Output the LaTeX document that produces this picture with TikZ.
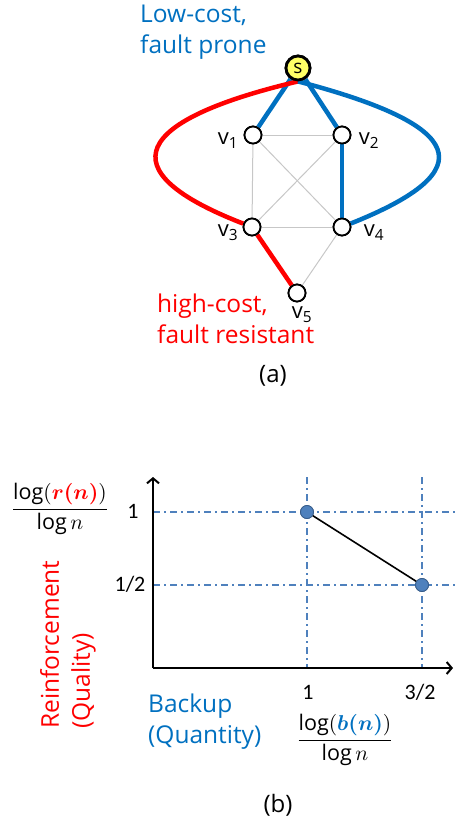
\documentclass[tikz,border=0pt]{standalone}
\usepackage{amsmath,bm}
\usepackage{fontspec}
\setmainfont{Open Sans}
\newfontfamily\calfont{Carlito}
\usetikzlibrary{arrows.meta}
\definecolor{myblue}{RGB}{0,112,192}
\definecolor{myred}{RGB}{255,0,0}
\definecolor{dotblue}{RGB}{79,129,189}
\definecolor{dotedge}{RGB}{56,93,138}
\definecolor{syellow}{RGB}{255,255,102}
\begin{document}
\begin{tikzpicture}[x=1pt,y=-1pt,
  vtx/.style={circle,draw,line width=1.8pt,fill=white,minimum size=17pt,inner sep=0pt},
  snode/.style={circle,draw,line width=2.8pt,fill=syellow,minimum size=24pt,inner sep=0pt,font=\fontsize{19}{19}\selectfont},
  grayedge/.style={draw=black!22,line width=1pt},
  blueedge/.style={draw=myblue,line width=4.5pt},
  rededge/.style={draw=myred,line width=4.5pt},
  vlab/.style={font=\fontsize{22}{24}\selectfont,inner sep=0pt},
  bigtext/.style={font=\fontsize{24.5}{31}\selectfont,inner sep=0pt,align=left},
  ticklab/.style={font=\calfont\fontsize{22}{24}\selectfont,inner sep=0pt},
  grid/.style={draw=dotblue,line width=1.3pt,dash pattern=on 7pt off 4pt on 2pt off 4pt},
  axis/.style={draw=black,line width=2.2pt,-{Straight Barb[length=5pt,width=12pt,line width=2pt]}},
  pt/.style={circle,fill=dotblue,draw=dotedge,line width=0.8pt,minimum size=13pt,inner sep=0pt},
  fracnode/.style={inner sep=0pt,scale=2.15}
]
\useasboundingbox (0,0) rectangle (457,828);

% ---------- (a) graph ----------
\node[snode] (s) at (298,68) {s};
\node[vtx] (v1) at (253,135) {};
\node[vtx] (v2) at (342,135) {};
\node[vtx] (v3) at (252,227) {};
\node[vtx] (v4) at (342,227) {};
\node[vtx] (v5) at (297,293) {};

\draw[grayedge] (v1) -- (v2);
\draw[grayedge] (v1) -- (v3);
\draw[grayedge] (v1) -- (v4);
\draw[grayedge] (v2) -- (v3);
\draw[grayedge] (v3) -- (v4);
\draw[grayedge] (v4) -- (v5);
\draw[blueedge] (v2) -- (v4);
\draw[blueedge] (s) -- (v1);
\draw[blueedge] (s) -- (v2);
\draw[rededge] (v3) -- (v5);
\draw[rededge] (s.south) .. controls (135,120) and (105,170) .. (v3);
\draw[blueedge] (s.south) .. controls (465,125) and (485,170) .. (v4);

% redraw nodes above edges
\node[vtx] at (v1) {};
\node[vtx] at (v2) {};
\node[vtx] at (v3) {};
\node[vtx] at (v4) {};
\node[vtx] at (v5) {};
\node[snode] at (s) {s};

\node[vlab] (l1) at (228,141) {v\textsubscript{1}};
\node[vlab] (l2) at (369,141) {v\textsubscript{2}};
\node[vlab] (l3) at (228,233) {v\textsubscript{3}};
\node[vlab] (l4) at (374,233) {v\textsubscript{4}};
\node[vlab] (l5) at (302,315) {v\textsubscript{5}};

\node[bigtext,text=myblue,anchor=north west] (lowcost) at (140,5) {Low-cost,\\fault prone};
\node[bigtext,text=myred,anchor=north west] (highcost) at (157,294) {high-cost,\\fault resistant};
\node[font=\fontsize{24}{24}\selectfont,inner sep=0pt] (capa) at (273,376) {(a)};

% ---------- (b) plot ----------
\coordinate (O) at (153,668);
\coordinate (ytip) at (153,477);
\coordinate (xtip) at (453,668);
\coordinate (g1t) at (307,477);
\coordinate (g1b) at (307,668);
\coordinate (g2t) at (422,477);
\coordinate (g2b) at (422,668);
\coordinate (h1l) at (153,512);
\coordinate (h1r) at (457,512);
\coordinate (h2l) at (153,585);
\coordinate (h2r) at (457,585);
\draw[grid] (g1t) -- (g1b);
\draw[grid] (g2t) -- (g2b);
\draw[grid] (h1l) -- (h1r);
\draw[grid] (h2l) -- (h2r);
\draw[axis] (O) -- (ytip);
\draw[axis] (O) -- (xtip);
\node[pt] (p1) at (307,512) {};
\node[pt] (p2) at (422,585) {};
\draw[black,line width=1.6pt] (p1) -- (p2);
\node[pt] at (p1) {};
\node[pt] at (p2) {};

\node[ticklab] (t1) at (133,511) {1};
\node[ticklab] (th) at (130,584) {1/2};
\node[ticklab] (x1) at (308,692) {1};
\node[ticklab] (x32) at (420,692) {3/2};

\node[fracnode] (fr) at (60,509)
  {$\dfrac{\log(\textcolor{myred}{\bm{r}\bm{(}\bm{n}\bm{)}})}{\log n}$};
\node[fracnode] (fb) at (345,740)
  {$\dfrac{\log(\textcolor{myblue}{\bm{b}\bm{(}\bm{n}\bm{)}})}{\log n}$};

\node[bigtext,text=myred,rotate=90,anchor=west] (reinf) at (68,729) {Reinforcement\\(Quality)};
\node[bigtext,text=myblue,anchor=north west] (backup) at (148,694) {Backup\\(Quantity)};
\node[font=\fontsize{24}{24}\selectfont,inner sep=0pt] (capb) at (278,805) {(b)};
\end{tikzpicture}
\end{document}
